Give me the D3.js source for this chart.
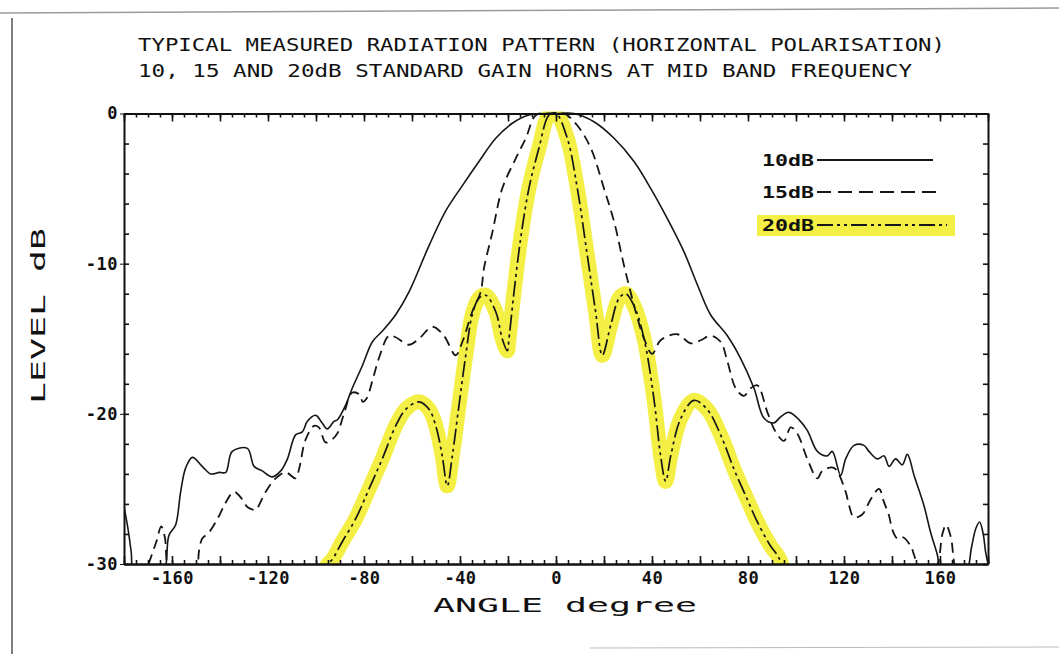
<!DOCTYPE html>
<html>
<head>
<meta charset="utf-8">
<script src="https://cdn.jsdelivr.net/npm/d3@7"></script>
<style>
  body { margin: 0; background: #fff; }
  svg { display: block; }
  .axis path, .axis line { stroke: #111; }
  .axis text { font-family: "DejaVu Sans Mono", monospace; font-weight: bold; fill: #111; }
</style>
</head>
<body>
<svg width="1059" height="654"></svg>
<script>
// measured patterns, [angle degree, level dB]
var horn10 = [[-180,-26.2],[-178.5,-27.5],[-177,-29.2],[-176,-30.6],[-170,-31.5],[-164,-30.6],[-162.5,-30],[-161.3,-28.1],
  [-158.5,-27.4],[-156.4,-25.2],[-154.3,-23.6],[-151.5,-22.9],[-147.4,-23.5],[-143.9,-24.0],[-140.2,-23.9],[-137.6,-23.9],
  [-134.9,-22.5],[-128.6,-22.3],[-125.8,-23.5],[-122.4,-23.8],[-118.2,-24.2],[-114.7,-23.8],[-111.9,-23.0],[-108.5,-21.4],
  [-105.7,-21.2],[-103.6,-20.5],[-100.1,-20.1],[-97.5,-20.6],[-95.3,-21.0],[-92.5,-20.5],[-91.1,-20.4],[-87.6,-19.4],
  [-84.9,-18.3],[-80.7,-16.8],[-76.5,-15.2],[-72.4,-14.5],[-66.8,-13.4],[-61.3,-11.9],[-52.9,-8.8],[-46,-6.5],[-39,-4.8],
  [-32.1,-3.2],[-25.1,-1.65],[-18.2,-0.65],[-11.3,-0.1],[0,0],[7.5,0],[15.8,-0.55],[24.2,-1.65],[32.5,-3.2],[39.5,-5.0],
  [46.4,-7.0],[53.3,-9.2],[58.9,-11.4],[64.4,-13.4],[71.4,-14.8],[76.9,-16.3],[82.5,-18.3],[86.7,-20.3],[90.8,-20.6],
  [93.6,-20.2],[97.1,-19.9],[101.3,-20.4],[104.7,-21.1],[108.9,-22.5],[113,-22.8],[115.1,-22.5],[118.6,-24.1],[120.7,-23.0],
  [124.2,-22.1],[128.3,-22.1],[130.4,-22.5],[133.9,-23.0],[136.7,-22.8],[138.8,-23.5],[141.5,-23.0],[144.3,-23.4],
  [146.4,-22.7],[149.2,-24.1],[153.3,-26.1],[156.1,-27.9],[158.9,-29.4],[160,-30.3],[165,-31.5],[171.5,-30.3],[173,-29],
  [175,-27.6],[176.5,-27.2],[178,-28],[179,-29.2],[180,-30]];

var horn15 = [[-172,-31],[-166.5,-28.5],[-164.5,-27.5],[-163,-28.2],[-161,-30.5],[-155,-31],[-149.5,-30],[-148.8,-29.2],
  [-147.4,-28.3],[-144.6,-27.9],[-140.4,-26.8],[-137.6,-25.9],[-134.2,-25.2],[-130.7,-25.7],[-128.6,-26.2],[-125.1,-26.4],
  [-123.8,-26.1],[-121,-25.2],[-116.8,-24.3],[-112.6,-23.9],[-108.5,-24.3],[-107.1,-23.7],[-104.3,-21.7],[-100.8,-20.8],
  [-98.8,-20.9],[-96,-21.9],[-93.2,-21.7],[-91.1,-21.3],[-88,-19.8],[-85,-18.6],[-82,-18.7],[-80.5,-19.2],[-79,-19.0],
  [-76,-17.5],[-73.8,-16.3],[-69.6,-14.8],[-66.8,-14.9],[-61.3,-15.4],[-57.1,-15.0],[-51.5,-14.2],[-46.7,-14.8],
  [-41.8,-16.1],[-39,-15.2],[-34.9,-13.2],[-31.4,-11.9],[-30,-10.3],[-26.5,-7.9],[-22.4,-5.0],[-16.8,-3.0],[-12.6,-1.65],
  [-8.3,-0.1],[-3,0],[3.3,0],[8.9,-0.8],[14.5,-2.3],[20,-5.0],[24.2,-7.2],[28.3,-10.1],[31.1,-11.9],[33.2,-13.2],
  [36.7,-15.0],[40.1,-16.0],[43.6,-15.1],[50.5,-14.7],[56.1,-15.3],[60.3,-15.1],[64.4,-14.8],[68.6,-15.2],[71.4,-16.5],
  [74.9,-18.3],[78.3,-18.8],[81.1,-18.3],[83.9,-18.1],[88.1,-19.9],[91.5,-21.2],[95,-21.8],[97.8,-20.9],[100.5,-21.3],
  [104.7,-23.0],[108.9,-24.3],[111,-23.8],[115.8,-23.6],[120.7,-25.2],[122.1,-26.1],[124.2,-26.9],[127.6,-26.7],
  [131.1,-25.7],[134.6,-25.0],[136.7,-25.9],[138.8,-26.8],[140.1,-27.7],[142.2,-28.3],[144.3,-28.2],[147.8,-28.8],
  [149.2,-29.4],[150.5,-30],[155,-31],[159,-30],[161,-28],[162.5,-27.4],[164.5,-28.2],[166,-30],[168,-31]];

var horn20 = [[-98,-31],[-95,-30],[-93.2,-29.7],[-89,-28.5],[-83.5,-27.0],[-77.9,-25.0],[-72.4,-23.0],[-66.8,-20.8],
  [-62.6,-19.7],[-57.1,-19.2],[-52.9,-19.7],[-50.1,-20.8],[-47.4,-22.8],[-45.3,-24.8],[-43.2,-22.8],[-40.4,-19.4],
  [-37.6,-16.1],[-34.9,-13.4],[-32.1,-12.3],[-29.3,-12.1],[-25.1,-13.2],[-22.4,-15.0],[-20.3,-15.8],[-19.6,-15.0],
  [-17.5,-11.9],[-14.7,-8.3],[-11.3,-5.0],[-7.1,-2.3],[-2.9,-0.1],[0,0],[4.7,-1.65],[8.9,-5.0],[13,-9.4],[16.5,-13.2],
  [19.3,-16.1],[22.8,-14.1],[26.3,-12.3],[29,-12.0],[32.5,-12.8],[36.7,-15.0],[40.8,-19.0],[43.6,-22.8],[45.7,-24.5],
  [47.8,-22.8],[52,-20.3],[57.5,-19.1],[63,-19.7],[68.6,-21.4],[74.2,-23.7],[79.7,-25.7],[83.9,-27.2],[89.4,-28.8],
  [92.2,-29.4],[94,-30],[96,-31]];

var seriesNames = ["10dB", "15dB", "20dB"];
var xLabelTicks = [-160, -120, -80, -40, 0, 40, 80, 120, 160];
var yLabelTicks = [0, -10, -20, -30];
var titleLines = ["TYPICAL MEASURED RADIATION PATTERN (HORIZONTAL POLARISATION)",
                  "10, 15 AND 20dB STANDARD GAIN HORNS AT MID BAND FREQUENCY"];

var svg = d3.select("svg");
var plotLeft = 124, plotRight = 988, plotTop = 113.5, plotBottom = 564;

var x = d3.scaleLinear().domain([-180, 180]).range([plotLeft, plotRight]);
var y = d3.scaleLinear().domain([-30, 0]).range([plotBottom, plotTop]);

// scan frame bits
svg.append("line").attr("x1", 0).attr("y1", 13).attr("x2", 1059).attr("y2", 8)
  .attr("stroke", "#9a9a9a").attr("stroke-width", 1.5);
svg.append("line").attr("x1", 12).attr("y1", 18).attr("x2", 12).attr("y2", 654)
  .attr("stroke", "#555").attr("stroke-width", 1.5);
svg.append("line").attr("x1", 590).attr("y1", 648).attr("x2", 1059).attr("y2", 647)
  .attr("stroke", "#bbb").attr("stroke-width", 1);

// titles
svg.selectAll(".title").data(titleLines).enter().append("text")
  .attr("class", "title")
  .attr("x", 138)
  .attr("y", function(d, i) { return 51 + i * 26; })
  .attr("textLength", function(d, i) { return i == 0 ? 807 : 774; })
  .attr("lengthAdjust", "spacingAndGlyphs")
  .style("font-family", "'DejaVu Sans Mono', monospace")
  .style("font-size", "17px")
  .style("fill", "#111")
  .text(function(d) { return d; });

// clip for curves
svg.append("clipPath").attr("id", "plotclip").append("rect")
  .attr("x", plotLeft).attr("y", plotTop - 2).attr("width", plotRight - plotLeft).attr("height", plotBottom - plotTop + 2);

var line = d3.line()
  .x(function(d) { return x(d[0]); })
  .y(function(d) { return y(d[1]); })
  .curve(d3.curveCatmullRom.alpha(0.5));

var plot = svg.append("g").attr("clip-path", "url(#plotclip)");

// yellow highlighter on 20dB
plot.append("path").datum(horn20)
  .attr("d", line)
  .attr("fill", "none")
  .attr("stroke", "#f4ef44")
  .attr("stroke-width", 15)
  .attr("stroke-linecap", "round")
  .attr("stroke-linejoin", "round");

plot.append("path").datum(horn10)
  .attr("d", line)
  .attr("fill", "none").attr("stroke", "#161616").attr("stroke-width", 1.6);

plot.append("path").datum(horn15)
  .attr("d", line)
  .attr("fill", "none").attr("stroke", "#161616").attr("stroke-width", 1.8)
  .attr("stroke-dasharray", "10,6");

plot.append("path").datum(horn20)
  .attr("d", line)
  .attr("fill", "none").attr("stroke", "#161616").attr("stroke-width", 1.7)
  .attr("stroke-dasharray", "16,4,3,4,3,4");

// axes: frame with inward ticks
var fiveDeg = d3.range(-180, 181, 5);
var twentyDeg = d3.range(-180, 181, 20);
var twoDb = d3.range(-30, 1, 2);

function noLabels(a) { return a.tickFormat(function() { return ""; }).tickSizeOuter(0); }

svg.append("g").attr("class", "axis").attr("transform", "translate(0," + plotBottom + ")")
  .call(noLabels(d3.axisBottom(x).tickValues(fiveDeg).tickSize(-4)));
svg.append("g").attr("class", "axis").attr("transform", "translate(0," + plotBottom + ")")
  .call(noLabels(d3.axisBottom(x).tickValues(twentyDeg).tickSize(-8)));
svg.append("g").attr("class", "axis").attr("transform", "translate(0," + plotTop + ")")
  .call(noLabels(d3.axisTop(x).tickValues(fiveDeg).tickSize(-4)));
svg.append("g").attr("class", "axis").attr("transform", "translate(0," + plotTop + ")")
  .call(noLabels(d3.axisTop(x).tickValues(twentyDeg).tickSize(-8)));
svg.append("g").attr("class", "axis").attr("transform", "translate(" + plotLeft + ",0)")
  .call(noLabels(d3.axisLeft(y).tickValues(twoDb).tickSize(-5)));
svg.append("g").attr("class", "axis").attr("transform", "translate(" + plotRight + ",0)")
  .call(noLabels(d3.axisRight(y).tickValues(twoDb).tickSize(-5)));

svg.selectAll(".axis path").attr("stroke-width", 2);
svg.selectAll(".axis line").attr("stroke-width", 1.6);

// labelled ticks
var xLab = svg.append("g").attr("class", "axis").attr("transform", "translate(0," + plotBottom + ")")
  .call(d3.axisBottom(x).tickValues(xLabelTicks).tickSize(0).tickPadding(8).tickFormat(d3.format("d")));
xLab.select(".domain").remove();
xLab.selectAll("text").style("font-size", "17px").style("letter-spacing", "0.5px").attr("dy", "0.72em")
  .text(function(d) { return d < 0 ? "-" + Math.abs(d) : d; });

var yLab = svg.append("g").attr("class", "axis").attr("transform", "translate(" + plotLeft + ",0)")
  .call(d3.axisLeft(y).tickValues(yLabelTicks).tickSize(4).tickPadding(2).tickFormat(d3.format("d")));
yLab.select(".domain").remove();
yLab.selectAll("text").style("font-size", "17px").style("letter-spacing", "0.5px")
  .text(function(d) { return d < 0 ? "-" + Math.abs(d) : d; });

// axis titles
svg.append("text")
  .attr("x", 433).attr("y", 612)
  .attr("textLength", 264).attr("lengthAdjust", "spacingAndGlyphs")
  .style("font-family", "'DejaVu Sans Mono', monospace").style("font-size", "19px").style("fill", "#111")
  .text("ANGLE degree");

svg.append("text")
  .attr("transform", "translate(45,404) rotate(-90)")
  .attr("textLength", 176).attr("lengthAdjust", "spacingAndGlyphs")
  .style("font-family", "'DejaVu Sans Mono', monospace").style("font-size", "19px").style("fill", "#111")
  .text("LEVEL dB");

// legend
var legY = [160, 192, 225];
var legEnd = [933, 937, 947];
var legDash = [null, "14,7", "16,4,3,4,3,4"];

svg.append("rect").attr("x", 757).attr("y", 215).attr("width", 198).attr("height", 21)
  .attr("fill", "#f4ef44");

var leg = svg.selectAll(".leg").data(seriesNames).enter().append("g").attr("class", "leg");
leg.append("text")
  .attr("x", 762).attr("y", function(d, i) { return legY[i] + 5.5; })
  .attr("textLength", 52).attr("lengthAdjust", "spacingAndGlyphs")
  .style("font-family", "'DejaVu Sans Mono', monospace").style("font-weight", "bold")
  .style("font-size", "15px").style("fill", "#111")
  .text(function(d) { return d; });
leg.append("line")
  .attr("x1", 817).attr("x2", function(d, i) { return legEnd[i]; })
  .attr("y1", function(d, i) { return legY[i]; }).attr("y2", function(d, i) { return legY[i]; })
  .attr("stroke", "#161616").attr("stroke-width", 1.8)
  .attr("stroke-dasharray", function(d, i) { return legDash[i]; });
</script>
</body>
</html>
